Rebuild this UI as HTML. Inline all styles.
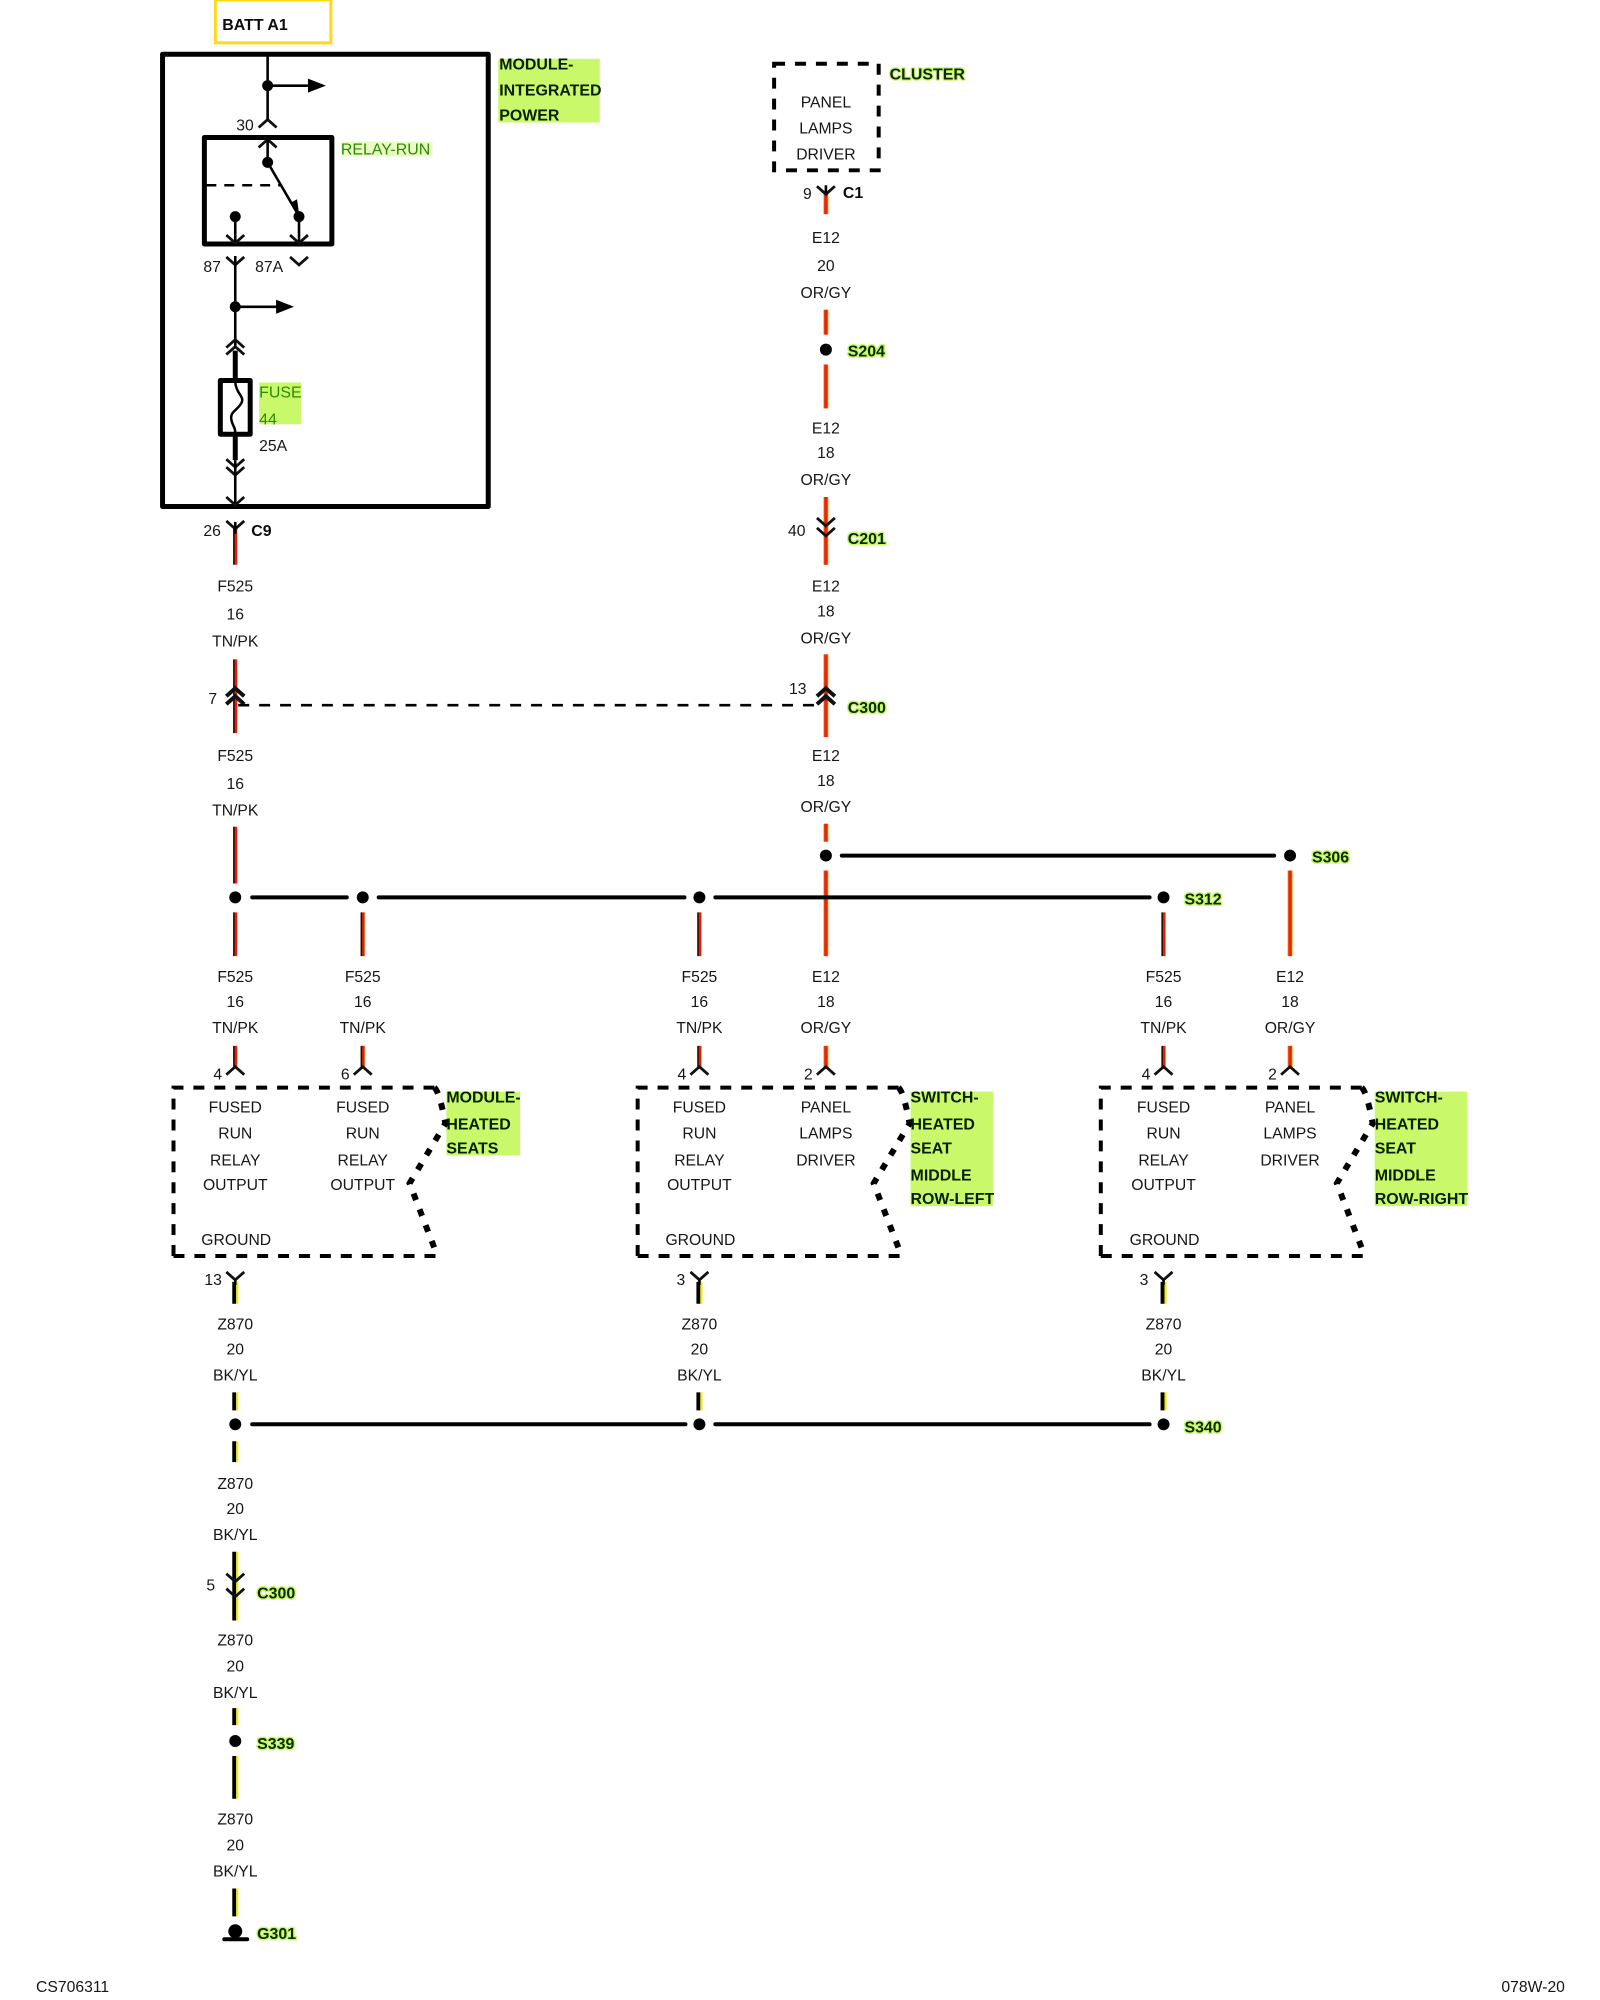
<!DOCTYPE html>
<html><head><meta charset="utf-8"><style>
html,body{margin:0;padding:0;background:#fff}
svg{display:block;filter:blur(.35px)}
text{font-family:"Liberation Sans",sans-serif;font-size:15.8px;fill:#161616}
.m{text-anchor:middle}
.b{font-weight:bold;font-size:16px;fill:#0c0c0c}
.g{font-weight:bold;font-size:16px;fill:#0a2a00;stroke:#c9f96a;stroke-width:3px;paint-order:stroke;stroke-linejoin:round}
.h{font-weight:bold;font-size:16px;fill:#052000}
.t{font-size:16px;fill:#2c8a00}
.c{fill:none;stroke:#111;stroke-width:2.8}
.k{fill:none;stroke:#000;stroke-width:5}
.l{fill:none;stroke:#000;stroke-width:2.6}
.bus{fill:none;stroke:#000;stroke-width:4;stroke-linecap:round}
.d{fill:none;stroke:#000;stroke-width:4;stroke-dasharray:11 10}
.e{fill:none;stroke:#000;stroke-width:6;stroke-dasharray:7 10}
</style></head><body>
<svg width="1600" height="2000" viewBox="-1.2 0 1606.4 2008" xmlns="http://www.w3.org/2000/svg">
<defs>
<path id="v" class="c" d="M-9-8 0 0 9-8"/>
<path id="a" class="c" d="M-9 8 0 0 9 8"/>
<path id="ta" class="c" style="stroke-width:4" d="M-9 8 0 0 9 8"/>
<path id="f" d="M235 530V567M235 662V736M235 830V887M235 916V960M235 1050V1073M363 916V960M363 1050V1073M701 916V960M701 1050V1073M1167 916V960M1167 1050V1073"/>
<path id="o" d="M828 192V215M828 311V336M828 366V410M828 499V567M828 657V740M828 827V845M828 874V960M828 1050V1073M1294 874V960M1294 1050V1073"/>
<path id="z" d="M235 1287V1309M701 1287V1309M1167 1287V1309M235 1398V1416M701 1398V1416M1167 1398V1416M235 1447V1468M235 1558V1627M235 1715V1732M235 1763V1806M235 1896V1924"/>
<g id="box">
<path class="d" d="M173 1261V1092H435"/>
<path class="d" d="M173 1261H438"/>
<path class="e" d="M435 1092Q440 1096 446 1128L410 1188L438 1261"/>
</g>
</defs>

<!-- highlights -->
<rect x="499" y="59" width="102" height="64" fill="#c9f96a"/>
<rect x="259" y="384" width="42" height="42" fill="#c9f96a"/>
<rect x="341" y="142" width="92" height="15" fill="#e8fcc4"/>
<rect x="447" y="1096" width="74" height="64" fill="#c9f96a"/>
<rect x="913" y="1096" width="83" height="115" fill="#c9f96a"/>
<rect x="1379" y="1096" width="93" height="115" fill="#c9f96a"/>

<!-- wires -->
<g fill="none">
<use href="#f" x="2" stroke="#e6c860" stroke-width="1"/>
<use href="#f" x="-1.2" stroke="#2a0c00" stroke-width="2"/>
<use href="#f" x=".6" stroke="#dc220c" stroke-width="2.4"/>
<use href="#o" stroke="#ffa010" stroke-width="5"/>
<use href="#o" stroke="#e8240a" stroke-width="3.4"/>
<use href="#z" x="-1" stroke="#000" stroke-width="4"/>
<use href="#z" x="2" stroke="#eaea20" stroke-width="2.2"/>
</g>

<!-- batt -->
<rect x="215" y="0" width="116" height="43" fill="none" stroke="#ffd81a" stroke-width="3"/>
<text class="b" x="222" y="30">BATT A1</text>

<!-- module integrated power -->
<rect x="162" y="54.500" width="327" height="454" fill="none" stroke="#000" stroke-width="5" stroke-linejoin="round"/>
<path class="l" d="M267.500 54V122"/>
<circle cx="267.500" cy="86" r="5.500"/>
<path class="l" d="M267.500 86H310"/>
<path d="M308 79L326 86L308 93Z"/>
<use href="#a" x="267.500" y="120"/>
<text x="236" y="131">30</text>
<rect x="204" y="138" width="128" height="107" fill="none" stroke="#000" stroke-width="5" stroke-linejoin="round"/>
<use href="#a" x="267.500" y="140"/>
<path class="l" d="M267.500 140V163"/>
<circle cx="267.500" cy="163" r="5.500"/>
<path class="l" d="M267.500 163L299 217"/>
<path d="M290 204L297 200L299 214Z"/>
<path class="l" stroke-dasharray="10 8" d="M206 186H280"/>
<circle cx="235" cy="217.500" r="5.500"/>
<circle cx="299" cy="217.500" r="5.500"/>
<path class="l" d="M235 217V244M299 217V244"/>
<use href="#v" x="235" y="244"/>
<use href="#v" x="299" y="244"/>
<use href="#v" x="235" y="266"/>
<use href="#v" x="299" y="266"/>
<path class="l" d="M235 257V350"/>
<text x="203" y="273">87</text>
<text x="255" y="273">87A</text>
<circle cx="235" cy="308" r="5.500"/>
<path class="l" d="M235 308H278"/>
<path d="M276 301L294 308L276 315Z"/>
<use href="#a" x="235" y="341"/>
<use href="#a" x="235" y="348"/>
<path class="k" d="M235 352V381M235 436V462"/>
<rect x="220" y="382" width="30" height="54" fill="#fff" stroke="#000" stroke-width="5" stroke-linejoin="round"/>
<path fill="none" stroke="#000" stroke-width="2.500" d="M235 384C236 396 245 398 241 405C236 413 230 413 231 421C232 428 235 428 235 434"/>
<text class="t" x="259" y="399">FUSE</text>
<text class="t" x="259" y="426">44</text>
<text x="259" y="453">25A</text>
<text class="t" x="341" y="155">RELAY-RUN</text>
<use href="#v" x="235" y="469"/>
<use href="#v" x="235" y="477"/>
<path class="l" d="M235 462V507"/>
<use href="#v" x="235" y="507"/>
<use href="#v" x="235" y="531"/>
<path class="l" d="M235 524V536"/>
<text x="203" y="538">26</text>
<text class="b" x="251" y="538">C9</text>
<text class="h" x="500" y="70">MODULE-</text>
<text class="h" x="500" y="96">INTEGRATED</text>
<text class="h" x="500" y="121">POWER</text>

<!-- cluster -->
<rect x="776" y="64" width="105" height="107" class="d"/>
<text class="m" x="828" y="108">PANEL</text>
<text class="m" x="828" y="134">LAMPS</text>
<text class="m" x="828" y="160">DRIVER</text>
<text class="g" style="stroke-width:2.500" x="892" y="80">CLUSTER</text>
<use href="#v" x="828" y="195"/>
<path class="l" d="M828 186V196"/>
<text x="805" y="200">9</text>
<text class="b" x="845" y="199">C1</text>
<text class="m" x="828" y="244">E12</text>
<text class="m" x="828" y="272">20</text>
<text class="m" x="828" y="299">OR/GY</text>
<circle cx="828" cy="351" r="6"/>
<text class="g" x="850" y="358">S204</text>
<text class="m" x="828" y="435">E12</text>
<text class="m" x="828" y="460">18</text>
<text class="m" x="828" y="487">OR/GY</text>
<use href="#v" x="828" y="528"/>
<use href="#v" x="828" y="538"/>
<text x="790" y="538">40</text>
<text class="g" x="850" y="546">C201</text>
<text class="m" x="828" y="594">E12</text>
<text class="m" x="828" y="619">18</text>
<text class="m" x="828" y="646">OR/GY</text>

<!-- C300 link -->
<use href="#ta" x="235" y="691"/>
<use href="#ta" x="235" y="699"/>
<use href="#ta" x="828" y="691"/>
<use href="#ta" x="828" y="699"/>
<path fill="none" stroke="#000" stroke-width="2.600" stroke-dasharray="11 10" d="M238 708H824"/>
<text x="208" y="707">7</text>
<text x="791" y="697">13</text>
<text class="g" x="850" y="716">C300</text>
<text class="m" x="235" y="594">F525</text>
<text class="m" x="235" y="622">16</text>
<text class="m" x="235" y="649">TN/PK</text>
<text class="m" x="235" y="764">F525</text>
<text class="m" x="235" y="792">16</text>
<text class="m" x="235" y="819">TN/PK</text>
<text class="m" x="828" y="764">E12</text>
<text class="m" x="828" y="789">18</text>
<text class="m" x="828" y="815">OR/GY</text>

<!-- buses -->
<circle cx="828" cy="859" r="6"/>
<circle cx="1294" cy="859" r="6"/>
<path class="bus" d="M844 859H1278"/>
<text class="g" x="1316" y="866">S306</text>
<path class="bus" d="M252 901H347M379 901H686M717 901H1153"/>
<circle cx="235" cy="901" r="6"/>
<circle cx="363" cy="901" r="6"/>
<circle cx="701" cy="901" r="6"/>
<circle cx="1167" cy="901" r="6"/>
<text class="g" x="1188" y="908">S312</text>

<!-- labels over modules -->
<text class="m" x="235" y="986">F525</text><text class="m" x="235" y="1011">16</text><text class="m" x="235" y="1037">TN/PK</text>
<text class="m" x="363" y="986">F525</text><text class="m" x="363" y="1011">16</text><text class="m" x="363" y="1037">TN/PK</text>
<text class="m" x="701" y="986">F525</text><text class="m" x="701" y="1011">16</text><text class="m" x="701" y="1037">TN/PK</text>
<text class="m" x="828" y="986">E12</text><text class="m" x="828" y="1011">18</text><text class="m" x="828" y="1037">OR/GY</text>
<text class="m" x="1167" y="986">F525</text><text class="m" x="1167" y="1011">16</text><text class="m" x="1167" y="1037">TN/PK</text>
<text class="m" x="1294" y="986">E12</text><text class="m" x="1294" y="1011">18</text><text class="m" x="1294" y="1037">OR/GY</text>

<use href="#a" x="235" y="1071"/><use href="#a" x="363" y="1071"/><use href="#a" x="701" y="1071"/><use href="#a" x="828" y="1071"/><use href="#a" x="1167" y="1071"/><use href="#a" x="1294" y="1071"/>
<text x="213" y="1084">4</text><text x="341" y="1084">6</text><text x="679" y="1084">4</text><text x="806" y="1084">2</text><text x="1145" y="1084">4</text><text x="1272" y="1084">2</text>

<!-- module boxes -->
<use href="#box"/>
<use href="#box" x="466"/>
<use href="#box" x="931"/>

<g class="m">
<text class="m" x="235" y="1117">FUSED</text><text class="m" x="235" y="1143">RUN</text><text class="m" x="235" y="1170">RELAY</text><text class="m" x="235" y="1195">OUTPUT</text><text class="m" x="236" y="1250">GROUND</text>
<text class="m" x="363" y="1117">FUSED</text><text class="m" x="363" y="1143">RUN</text><text class="m" x="363" y="1170">RELAY</text><text class="m" x="363" y="1195">OUTPUT</text>
<text class="m" x="701" y="1117">FUSED</text><text class="m" x="701" y="1143">RUN</text><text class="m" x="701" y="1170">RELAY</text><text class="m" x="701" y="1195">OUTPUT</text><text class="m" x="702" y="1250">GROUND</text>
<text class="m" x="828" y="1117">PANEL</text><text class="m" x="828" y="1143">LAMPS</text><text class="m" x="828" y="1170">DRIVER</text>
<text class="m" x="1167" y="1117">FUSED</text><text class="m" x="1167" y="1143">RUN</text><text class="m" x="1167" y="1170">RELAY</text><text class="m" x="1167" y="1195">OUTPUT</text><text class="m" x="1168" y="1250">GROUND</text>
<text class="m" x="1294" y="1117">PANEL</text><text class="m" x="1294" y="1143">LAMPS</text><text class="m" x="1294" y="1170">DRIVER</text>
</g>
<text class="h" x="447" y="1107">MODULE-</text><text class="h" x="447" y="1134">HEATED</text><text class="h" x="447" y="1158">SEATS</text>
<text class="h" x="913" y="1107">SWITCH-</text><text class="h" x="913" y="1134">HEATED</text><text class="h" x="913" y="1158">SEAT</text><text class="h" x="913" y="1185">MIDDLE</text><text class="h" x="913" y="1209">ROW-LEFT</text>
<text class="h" x="1379" y="1107">SWITCH-</text><text class="h" x="1379" y="1134">HEATED</text><text class="h" x="1379" y="1158">SEAT</text><text class="h" x="1379" y="1185">MIDDLE</text><text class="h" x="1379" y="1209">ROW-RIGHT</text>

<!-- bottom connectors -->
<use href="#v" x="235" y="1285"/><use href="#v" x="701" y="1285"/><use href="#v" x="1167" y="1285"/>
<path class="l" d="M235 1285V1290M701 1285V1290M1167 1285V1290"/>
<text x="204" y="1290">13</text><text x="678" y="1290">3</text><text x="1143" y="1290">3</text>

<text class="m" x="235" y="1335">Z870</text><text class="m" x="235" y="1360">20</text><text class="m" x="235" y="1386">BK/YL</text>
<text class="m" x="701" y="1335">Z870</text><text class="m" x="701" y="1360">20</text><text class="m" x="701" y="1386">BK/YL</text>
<text class="m" x="1167" y="1335">Z870</text><text class="m" x="1167" y="1360">20</text><text class="m" x="1167" y="1386">BK/YL</text>

<path class="bus" d="M252 1430H687M717 1430H1153"/>
<circle cx="235" cy="1430" r="6"/>
<circle cx="701" cy="1430" r="6"/>
<circle cx="1167" cy="1430" r="6"/>
<text class="g" x="1188" y="1438">S340</text>

<text class="m" x="235" y="1495">Z870</text><text class="m" x="235" y="1520">20</text><text class="m" x="235" y="1546">BK/YL</text>
<use href="#v" x="235" y="1588"/>
<use href="#v" x="235" y="1603"/>
<text x="206" y="1597">5</text>
<text class="g" x="257" y="1605">C300</text>
<text class="m" x="235" y="1652">Z870</text><text class="m" x="235" y="1678">20</text><text class="m" x="235" y="1705">BK/YL</text>
<circle cx="235" cy="1748" r="6"/>
<text class="g" x="257" y="1756">S339</text>
<text class="m" x="235" y="1832">Z870</text><text class="m" x="235" y="1858">20</text><text class="m" x="235" y="1884">BK/YL</text>
<circle cx="235" cy="1939" r="7"/>
<path d="M224 1947H247" stroke="#000" stroke-width="4" stroke-linecap="round"/>
<text class="g" x="257" y="1947">G301</text>

<text x="35" y="2000">CS706311</text>
<text x="1570" y="2000" text-anchor="end">078W-20</text>
</svg>
</body></html>
